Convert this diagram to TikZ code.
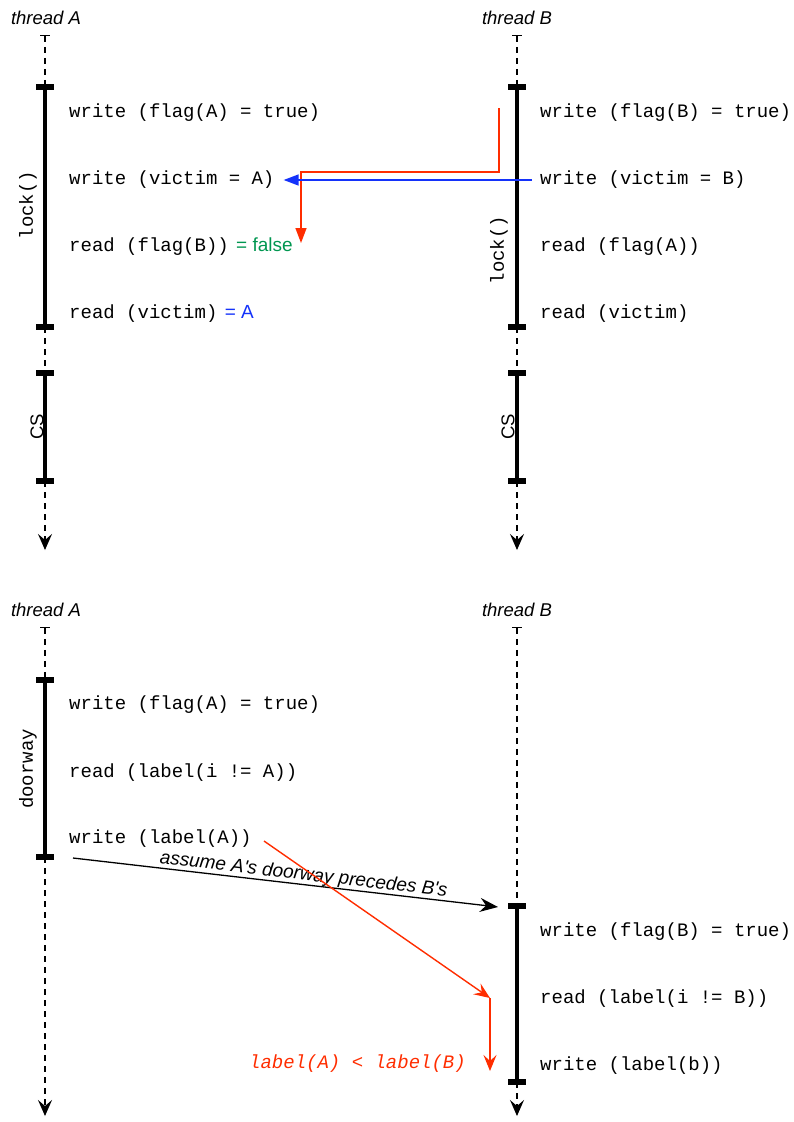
\documentclass[tikz,border=0pt]{standalone}
\usepackage{fontspec}
\setmainfont{Liberation Sans}
\setmonofont{Liberation Mono}
\usepackage{xcolor}
\usetikzlibrary{arrows.meta,positioning}
\definecolor{flowred}{RGB}{255,45,0}
\definecolor{flowblue}{RGB}{20,50,250}
\definecolor{flowgreen}{RGB}{0,150,80}

\begin{document}
\begin{tikzpicture}[
    x=1pt, y=-1pt,
    threadname/.style={font=\fontsize{18.5}{22}\selectfont\itshape},
    op/.style={anchor=west, inner sep=0pt, font=\fontsize{19}{22}\selectfont\ttfamily},
    result/.style={anchor=base west, inner sep=0pt, font=\fontsize{19}{22}\selectfont},
    phase/.style={rotate=90, inner sep=0pt, font=\fontsize{19}{22}\selectfont\ttfamily},
    phasesf/.style={rotate=90, inner sep=0pt, font=\fontsize{18.5}{22}\selectfont},
    idle/.style={line width=1.2pt, dash pattern=on 6pt off 5pt},
    start/.style={idle, {Bar[width=10pt,line width=1.3pt]}-},
    finish/.style={idle, -{Stealth[length=16pt,width=14pt,inset=6pt]}},
    section/.style={line width=4.5pt},
    barcap/.style={line width=5.5pt},
    redflow/.style={flowred, line width=1.4pt, -{Triangle[length=15pt,width=11pt]}},
    blueflow/.style={flowblue, line width=1.4pt, -{Triangle[length=15pt,width=11pt]}},
    redorder/.style={flowred, line width=1.4pt, -{Stealth[length=16pt,width=13pt,inset=6pt]}},
    order/.style={line width=1.3pt, -{Stealth[length=18pt,width=14pt,inset=6pt]}}
]
\useasboundingbox (0,0) rectangle (794,1122);

% --- Peterson lock ---
\node[threadname] (tA) at (46,18) {thread A};
\node[threadname] (tB) at (517,18) {thread B};
\foreach \x in {45,517} {
    \draw[start] (\x,35) -- (\x,87);
    \draw[section] (\x,87) -- (\x,327);
    \draw[idle] (\x,327) -- (\x,373);
    \draw[section] (\x,373) -- (\x,481);
    \draw[finish] (\x,481) -- (\x,550);
    \foreach \y in {87,327,373,481}
        \draw[barcap] (\x-9,\y) -- (\x+9,\y);
}
\node[phase] (lockA) at (28,205) {lock()};
\node[phase] (lockB) at (499,250) {lock()};
\node[phasesf] (csA) at (37,427) {CS};
\node[phasesf] (csB) at (508,427) {CS};

\node[op] (wfA) at (69,113) {write (flag(A) = true)};
\node[op] (wvA) at (69,180) {write (victim = A)};
\node[op] (rfA) at (69,247) {read (flag(B))};
\node[op] (rvA) at (69,314) {read (victim)};
\node[result, text=flowgreen] (rfAval) at ([xshift=7pt]rfA.base east) {= false};
\node[result, text=flowblue] (rvAval) at ([xshift=7pt]rvA.base east) {= A};

\node[op] (wfB) at (540,113) {write (flag(B) = true)};
\node[op] (wvB) at (540,180) {write (victim = B)};
\node[op] (rfB) at (540,247) {read (flag(A))};
\node[op] (rvB) at (540,314) {read (victim)};

\coordinate (redtop) at (499,108);
\coordinate (redend) at (301,243);
\draw[redflow] (redtop) -- (499,172) -| (redend);
\draw[blueflow] ([xshift=-8pt]wvB.west) -- ([xshift=9pt]wvA.east);

% --- Bakery lock ---
\node[threadname] (bA) at (46,610) {thread A};
\node[threadname] (bB) at (517,610) {thread B};
\draw[start] (45,627) -- (45,680);
\draw[section] (45,680) -- (45,857);
\draw[finish] (45,857) -- (45,1116);
\draw[start] (517,627) -- (517,906);
\draw[section] (517,906) -- (517,1082);
\draw[finish] (517,1082) -- (517,1116);
\foreach \x/\y in {45/680,45/857,517/906,517/1082}
    \draw[barcap] (\x-9,\y) -- (\x+9,\y);
\node[phase] (door) at (28,769) {doorway};

\node[op] (bwfA) at (69,705) {write (flag(A) = true)};
\node[op] (brlA) at (69,773) {read (label(i != A))};
\node[op] (bwlA) at (69,839) {write (label(A))};
\node[op] (bwfB) at (540,932) {write (flag(B) = true)};
\node[op] (brlB) at (540,999) {read (label(i != B))};
\node[op] (bwlB) at (540,1066) {write (label(b))};

\coordinate (doorA) at (73,858);
\coordinate (doorB) at (498,907);
\draw[order] (doorA) -- (doorB)
    node[pos=0.54, sloped, above, inner sep=0pt, font=\fontsize{19}{22}\selectfont\itshape] {assume A\textquotesingle s doorway precedes B\textquotesingle s};

\coordinate (redA) at (264,841);
\coordinate (redmid) at (490,998);
\coordinate (redlow) at (490,1071);
\draw[redorder] (redA) -- (redmid);
\draw[redorder] (redmid) -- (redlow);
\node[op, anchor=east, text=flowred, font=\fontsize{19}{22}\selectfont\ttfamily\itshape] (cmp) at (466,1064) {label(A) < label(B)};
\end{tikzpicture}
\end{document}
